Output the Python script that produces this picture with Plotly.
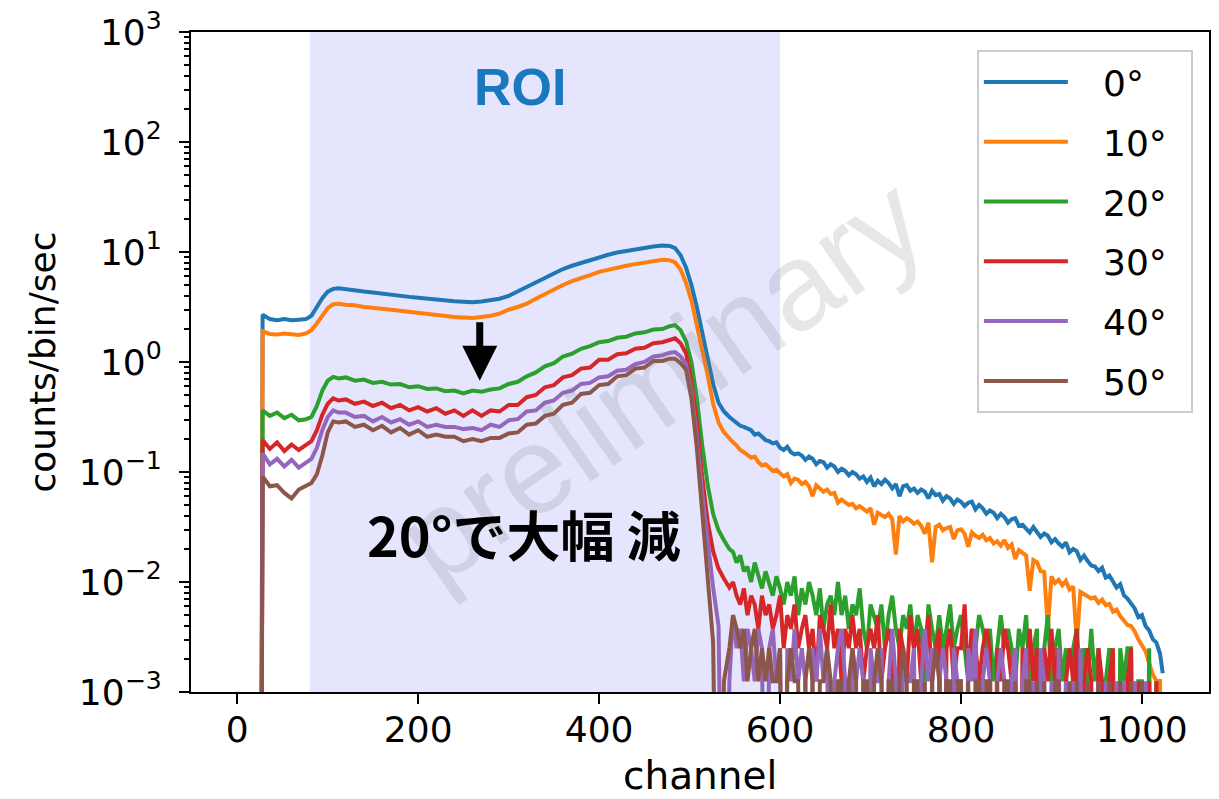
import plotly.graph_objects as go

# ---------------- data ----------------
labels = ["0°", "10°", "20°", "30°", "40°", "50°"]
colors = ["#1f77b4", "#ff7f0e", "#2ca02c", "#d62728", "#9467bd", "#8c564b"]

# channel grid of the main part (start edge, plateau, ROI hump, drop)
ch_main = [26, 28, 36, 44, 52, 60, 68, 76, 82, 88, 94, 100, 106, 112] + list(range(120, 471, 10)) + \
          [478, 484, 490, 496, 502, 508, 514, 520, 526, 532, 538, 544]
# channel grid of the tail part
ch_tail = list(range(548, 1021, 4)) + [1023]

# log10(counts/bin/sec) in the main part; None = zero counts
blue_main_log = [None, 0.43, 0.39, 0.38, 0.39, 0.38, 0.385, 0.39, 0.42, 0.50, 0.58, 0.64, 0.665, 0.67,
                 0.66, 0.655, 0.64, 0.632, 0.62, 0.61, 0.60, 0.592, 0.585, 0.575, 0.568, 0.56, 0.552, 0.548, 0.543, 0.55,
                 0.56, 0.575, 0.60, 0.64, 0.68, 0.73, 0.77, 0.81, 0.845, 0.875, 0.90, 0.93, 0.955, 0.975, 0.995, 1.01,
                 1.025, 1.04, 1.05, 1.06,
                 1.055, 1.035, 0.97, 0.86, 0.70, 0.50, 0.28, 0.06, -0.20, -0.37, -0.45, -0.50]
orange_main_log = [None, 0.28, 0.255, 0.25, 0.26, 0.25, 0.245, 0.26, 0.29, 0.35, 0.42, 0.49, 0.525, 0.53,
                   0.52, 0.515, 0.50, 0.495, 0.485, 0.475, 0.465, 0.455, 0.445, 0.435, 0.425, 0.418, 0.41, 0.405, 0.40, 0.41,
                   0.42, 0.44, 0.475, 0.50, 0.53, 0.575, 0.62, 0.66, 0.70, 0.735, 0.76, 0.79, 0.82, 0.84, 0.86, 0.875,
                   0.89, 0.905, 0.92, 0.93,
                   0.925, 0.905, 0.84, 0.72, 0.56, 0.34, 0.10, -0.12, -0.38, -0.55, -0.64, -0.70]
green_main_log = [None, -0.44, -0.49, -0.46, -0.51, -0.48, -0.53, -0.52, -0.50, -0.40, -0.26, -0.17, -0.135, -0.15,
                  -0.14, -0.17, -0.16, -0.19, -0.18, -0.205, -0.20, -0.23, -0.22, -0.245, -0.24, -0.265, -0.26, -0.285, -0.26, -0.27,
                  -0.25, -0.24, -0.20, -0.18, -0.13, -0.095, -0.04, -0.01, 0.05, 0.075, 0.12, 0.145, 0.18, 0.19, 0.22, 0.23,
                  0.26, 0.27, 0.295, 0.30,
                  0.325, 0.335, 0.29, 0.19, 0.00, -0.33, -0.76, -1.12, -1.38, -1.53, -1.62, -1.70]
red_main_log = [None, -0.71, -0.79, -0.73, -0.81, -0.75, -0.80, -0.76, -0.72, -0.62, -0.48, -0.38, -0.33, -0.35,
                -0.34, -0.38, -0.36, -0.40, -0.37, -0.42, -0.39, -0.44, -0.41, -0.45, -0.42, -0.47, -0.44, -0.49, -0.44, -0.49,
                -0.44, -0.45, -0.39, -0.39, -0.32, -0.30, -0.23, -0.21, -0.14, -0.12, -0.06, -0.05, 0.02, 0.02, 0.07, 0.08,
                0.12, 0.13, 0.17, 0.18,
                0.20, 0.215, 0.17, 0.08, -0.18, -0.55, -1.05, -1.45, -1.72, -1.88, -1.97, -2.05]
purple_main_log = [None, -0.83, -0.93, -0.88, -0.95, -0.89, -0.96, -0.91, -0.88, -0.78, -0.62, -0.50, -0.44, -0.46,
                   -0.46, -0.50, -0.49, -0.54, -0.50, -0.55, -0.52, -0.57, -0.54, -0.59, -0.57, -0.59, -0.59, -0.61, -0.60, -0.62,
                   -0.57, -0.59, -0.53, -0.52, -0.45, -0.44, -0.37, -0.35, -0.28, -0.26, -0.20, -0.19, -0.14, -0.13, -0.08, -0.07,
                   -0.02, 0.00, 0.05, 0.06,
                   0.085, 0.09, 0.05, -0.02, -0.28, -0.68, -1.20, -1.62, -2.05, -2.40, None, -2.9]
brown_main_log = [None, -1.04, -1.13, -1.12, -1.19, -1.24, -1.16, -1.13, -1.10, -1.02, -0.85, -0.64, -0.54, -0.55,
                  -0.54, -0.59, -0.57, -0.62, -0.58, -0.64, -0.60, -0.66, -0.62, -0.68, -0.66, -0.68, -0.68, -0.72, -0.70, -0.72,
                  -0.69, -0.69, -0.65, -0.64, -0.57, -0.56, -0.49, -0.47, -0.39, -0.37, -0.29, -0.28, -0.21, -0.20, -0.13, -0.12,
                  -0.06, -0.05, 0.01, 0.01,
                  0.03, 0.03, -0.01, -0.07, -0.33, -0.78, -1.35, -1.90, -2.55, None, -2.9, -2.6]

# tails of 0° and 10°: log10(counts/bin/sec), channels 548..1020 step 4, then 1023
blue_tail_log = [-0.53, -0.55, -0.58, -0.59, -0.61, -0.62, -0.66, -0.65, -0.68, -0.71,
                 -0.72, -0.74, -0.73, -0.78, -0.80, -0.77, -0.82, -0.84, -0.83, -0.85,
                 -0.89, -0.86, -0.88, -0.93, -0.90, -0.91, -0.96, -0.93, -0.95, -1.00,
                 -0.97, -0.99, -1.03, -1.00, -1.02, -1.06, -1.04, -1.09, -1.05, -1.13,
                 -1.08, -1.11, -1.07, -1.10, -1.15, -1.11, -1.22, -1.13, -1.12, -1.17,
                 -1.15, -1.19, -1.16, -1.18, -1.24, -1.17, -1.21, -1.20, -1.26, -1.22,
                 -1.24, -1.29, -1.25, -1.27, -1.31, -1.28, -1.27, -1.34, -1.30, -1.33,
                 -1.38, -1.35, -1.37, -1.42, -1.38, -1.41, -1.46, -1.43, -1.42, -1.49,
                 -1.48, -1.51, -1.55, -1.50, -1.54, -1.59, -1.56, -1.58, -1.64, -1.61,
                 -1.65, -1.68, -1.64, -1.73, -1.70, -1.72, -1.80, -1.76, -1.81, -1.85,
                 -1.86, -1.90, -1.87, -1.96, -1.94, -1.99, -2.05, -2.02, -2.12, -2.15,
                 -2.20, -2.24, -2.32, -2.30, -2.40, -2.44, -2.52, -2.55, -2.65,
                 -2.83]
orange_tail_log = [-0.73, -0.76, -0.80, -0.82, -0.85, -0.87, -0.86, -0.91, -0.94, -0.93,
                   -0.96, -0.99, -0.98, -1.01, -1.04, -1.02, -1.10, -1.06, -1.07, -1.11,
                   -1.09, -1.13, -1.22, -1.12, -1.15, -1.18, -1.16, -1.20, -1.19, -1.28,
                   -1.25, -1.27, -1.30, -1.29, -1.33, -1.31, -1.34, -1.36, -1.33, -1.48,
                   -1.37, -1.39, -1.41, -1.38, -1.43, -1.75, -1.40, -1.45, -1.42, -1.44,
                   -1.47, -1.45, -1.49, -1.56, -1.46, -1.82, -1.50, -1.48, -1.53, -1.51,
                   -1.50, -1.61, -1.53, -1.52, -1.56, -1.68, -1.55, -1.58, -1.60, -1.57,
                   -1.62, -1.60, -1.65, -1.63, -1.67, -1.62, -1.69, -1.66, -1.79, -1.71,
                   -1.74, -1.76, -2.08, -1.80, -1.82, -1.90, -1.91, -2.42, -1.95, -2.01,
                   -1.98, -2.03, -1.99, -2.07, -2.04, -2.55, -2.09, -2.11, -2.13, -2.15,
                   -2.14, -2.19, -2.16, -2.21, -2.20, -2.27, -2.25, -2.31, -2.35, -2.39,
                   -2.40, -2.45, -2.52, -2.57, -2.63, -2.74, -2.84, -2.90, -2.90,
                   None]

# tails of 20°-50°: counts per bin (one count = count_unit counts/bin/sec)
count_unit = 0.00125
green_tail_counts = [15, 12, 14, 10, 11, 8, 12, 9, 7, 10,
                     8, 6, 9, 7, 5, 8, 6, 9, 4, 7,
                     5, 8, 6, 4, 7, 3, 5, 6, 4, 8,
                     4, 6, 3, 5, 4, 7, 3, 2, 5, 4,
                     3, 5, 2, 4, 6, 3, 2, 4, 3, 5,
                     2, 4, 3, 1, 5, 3, 2, 4, 2, 3,
                     5, 2, 3, 4, 2, 1, 3, 2, 4, 3,
                     2, 3, 1, 2, 4, 2, 3, 2, 1, 3,
                     2, 4, 1, 2, 3, 0, 2, 4, 1, 2,
                     3, 1, 2, 0, 2, 3, 1, 2, 1, 3,
                     1, 2, 0, 1, 2, 1, 0, 2, 1, 2,
                     2, 0, 1, 1, 0, 2, 0, 1, 0,
                     0]
red_tail_counts = [8, 6, 5, 7, 4, 6, 5, 3, 6, 4,
                   5, 3, 4, 6, 2, 4, 3, 5, 2, 3,
                   4, 2, 3, 1, 4, 3, 2, 5, 2, 3,
                   1, 3, 2, 4, 2, 3, 1, 2, 3, 2,
                   4, 1, 2, 3, 2, 0, 3, 2, 1, 4,
                   2, 3, 1, 2, 4, 1, 2, 3, 0, 2,
                   3, 1, 2, 2, 5, 1, 3, 2, 1, 2,
                   3, 2, 0, 2, 1, 3, 2, 1, 2, 0,
                   2, 1, 3, 1, 2, 0, 2, 1, 3, 1,
                   2, 0, 1, 2, 1, 3, 0, 1, 2, 1,
                   0, 2, 1, 0, 1, 2, 0, 1, 0, 1,
                   2, 0, 1, 0, 0, 1, 0, 1, 0,
                   0]
purple_tail_counts = [4, 2, 3, 1, 3, 2, 1, 3, 2, 0,
                      2, 3, 1, 2, 0, 2, 1, 3, 1, 2,
                      1, 0, 2, 1, 3, 1, 2, 0, 1, 2,
                      3, 1, 0, 2, 1, 2, 1, 0, 2, 1,
                      1, 2, 0, 1, 3, 1, 0, 2, 1, 1,
                      2, 0, 1, 3, 1, 2, 0, 1, 2, 1,
                      0, 2, 1, 1, 0, 2, 1, 3, 0, 1,
                      2, 1, 0, 1, 2, 1, 0, 1, 2, 0,
                      1, 2, 0, 1, 0, 2, 1, 0, 1, 0,
                      2, 0, 1, 0, 1, 0, 2, 0, 1, 0,
                      0, 1, 0, 1, 0, 0, 1, 0, 1, 0,
                      0, 1, 0, 0, 1, 0, 0, 0, 0,
                      0]
brown_tail_counts = [4, 3, 2, 3, 1, 2, 3, 1, 2, 1,
                     2, 1, 1, 2, 0, 1, 2, 1, 1, 0,
                     1, 2, 1, 0, 1, 1, 2, 1, 0, 1,
                     1, 0, 1, 2, 1, 0, 1, 1, 0, 1,
                     2, 1, 0, 1, 1, 0, 1, 2, 1, 0,
                     1, 1, 0, 1, 0, 1, 2, 1, 0, 1,
                     1, 0, 1, 1, 0, 1, 0, 1, 1, 0,
                     1, 1, 0, 1, 0, 1, 1, 0, 1, 0,
                     0, 1, 1, 0, 1, 0, 1, 0, 0, 1,
                     1, 0, 0, 1, 0, 1, 0, 0, 1, 0,
                     0, 1, 0, 0, 1, 0, 0, 1, 0, 0,
                     1, 0, 0, 1, 0, 0, 0, 0, 0,
                     0]

# ---------------- helpers ----------------
FLOOR = 1e-6  # zero counts are clipped far below the axis (like matplotlib's log clipping)


def from_log(vals):
    return [10 ** v if v is not None else FLOOR for v in vals]


def from_counts(vals):
    return [c * count_unit if c > 0 else FLOOR for c in vals]


series_y = [
    from_log(blue_main_log) + from_log(blue_tail_log),
    from_log(orange_main_log) + from_log(orange_tail_log),
    from_log(green_main_log) + from_counts(green_tail_counts),
    from_log(red_main_log) + from_counts(red_tail_counts),
    from_log(purple_main_log) + from_counts(purple_tail_counts),
    from_log(brown_main_log) + from_counts(brown_tail_counts),
]
channels = ch_main + ch_tail

fig = go.Figure()
for lab, col, ys in zip(labels, colors, series_y):
    fig.add_trace(go.Scatter(x=channels, y=ys, mode="lines",
                             name="\u00a0\u00a0\u2009" + lab + "\u00a0\u2009",
                             legendgroup=lab, line=dict(color=col, width=4)))

# ROI band
fig.add_shape(type="rect", xref="x", yref="paper", x0=80, x1=600, y0=0, y1=1,
              fillcolor="rgb(229,229,253)", line=dict(width=0), layer="below")

# ROI label
fig.add_annotation(text="<b>ROI</b>", x=313, y=0.917, xref="x", yref="paper", showarrow=False,
                   xanchor="center", yanchor="middle",
                   font=dict(family="Liberation Sans", size=52, color="#1a78be"))

# watermark
fig.add_annotation(text="preliminary", x=0.4615, y=0.472, xref="paper", yref="paper",
                   xanchor="center", yanchor="middle", showarrow=False, textangle=-35,
                   font=dict(family="Liberation Sans", size=124, color="rgba(120,120,120,0.18)"))

# Japanese comment
fig.add_annotation(text="<b>20°で大幅 減</b>", x=317, y=0.24, xref="x", yref="paper", showarrow=False,
                   xanchor="center", yanchor="middle",
                   font=dict(family="Noto Sans CJK JP", size=54, color="black"))

# arrow (y given in log10 because the axis is logarithmic)
fig.add_annotation(text="", x=268, y=-0.17, xref="x", yref="y", ax=0, ay=-60,
                   showarrow=True, arrowhead=2, arrowsize=1, arrowwidth=7, arrowcolor="black")

# x-axis title (placed as an annotation so it can sit low in the bottom margin)
fig.add_annotation(text="channel", x=0.5, y=-0.127, xref="paper", yref="paper", showarrow=False,
                   xanchor="center", yanchor="middle", font=dict(family="DejaVu Sans", size=39, color="black"))

ytick_vals = [1e-3, 1e-2, 1e-1, 1e0, 1e1, 1e2, 1e3]
ytick_text = ["10<sup>−3</sup>", "10<sup>−2</sup>", "10<sup>−1</sup>", "10<sup>0</sup>",
              "10<sup>1</sup>", "10<sup>2</sup>", "10<sup>3</sup>"]
minor_vals = [m * 10 ** e for e in range(-3, 3) for m in range(2, 10)]

# the page body adds an 8 px margin, so the figure is 8 px smaller and margins are shifted
fig.update_layout(
    width=1211, height=791,
    margin=dict(l=183, r=10, t=24, b=107),
    plot_bgcolor="white", paper_bgcolor="white",
    font=dict(family="DejaVu Sans", size=36, color="black"),
    showlegend=True,
    legend=dict(x=0.772, y=0.9727, xanchor="left", yanchor="top", bgcolor="white",
                bordercolor="#cccccc", borderwidth=2, font=dict(size=36),
                traceorder="grouped", tracegroupgap=10, itemwidth=84),
    xaxis=dict(range=[-51.15, 1074.15], tickvals=[0, 200, 400, 600, 800, 1000],
               ticks="outside", ticklen=10, tickwidth=2, tickcolor="black", ticklabelstandoff=-5,
               showline=True, linecolor="black", linewidth=2, mirror=True,
               showgrid=False, zeroline=False, automargin=False, ticklabeloverflow="allow"),
    yaxis=dict(type="log", range=[-3, 3], tickvals=ytick_vals, ticktext=ytick_text,
               ticks="outside", ticklen=10, tickwidth=2, tickcolor="black", ticklabelstandoff=10,
               showline=True, linecolor="black", linewidth=2, mirror=True,
               showgrid=False, zeroline=False, automargin=False, ticklabeloverflow="allow",
               minor=dict(tickvals=minor_vals, ticks="outside", ticklen=5, tickwidth=1.5,
                          tickcolor="black", showgrid=False),
               title=dict(text="counts/bin/sec", standoff=12, font=dict(size=36))),
)

fig.write_html("out.html")
